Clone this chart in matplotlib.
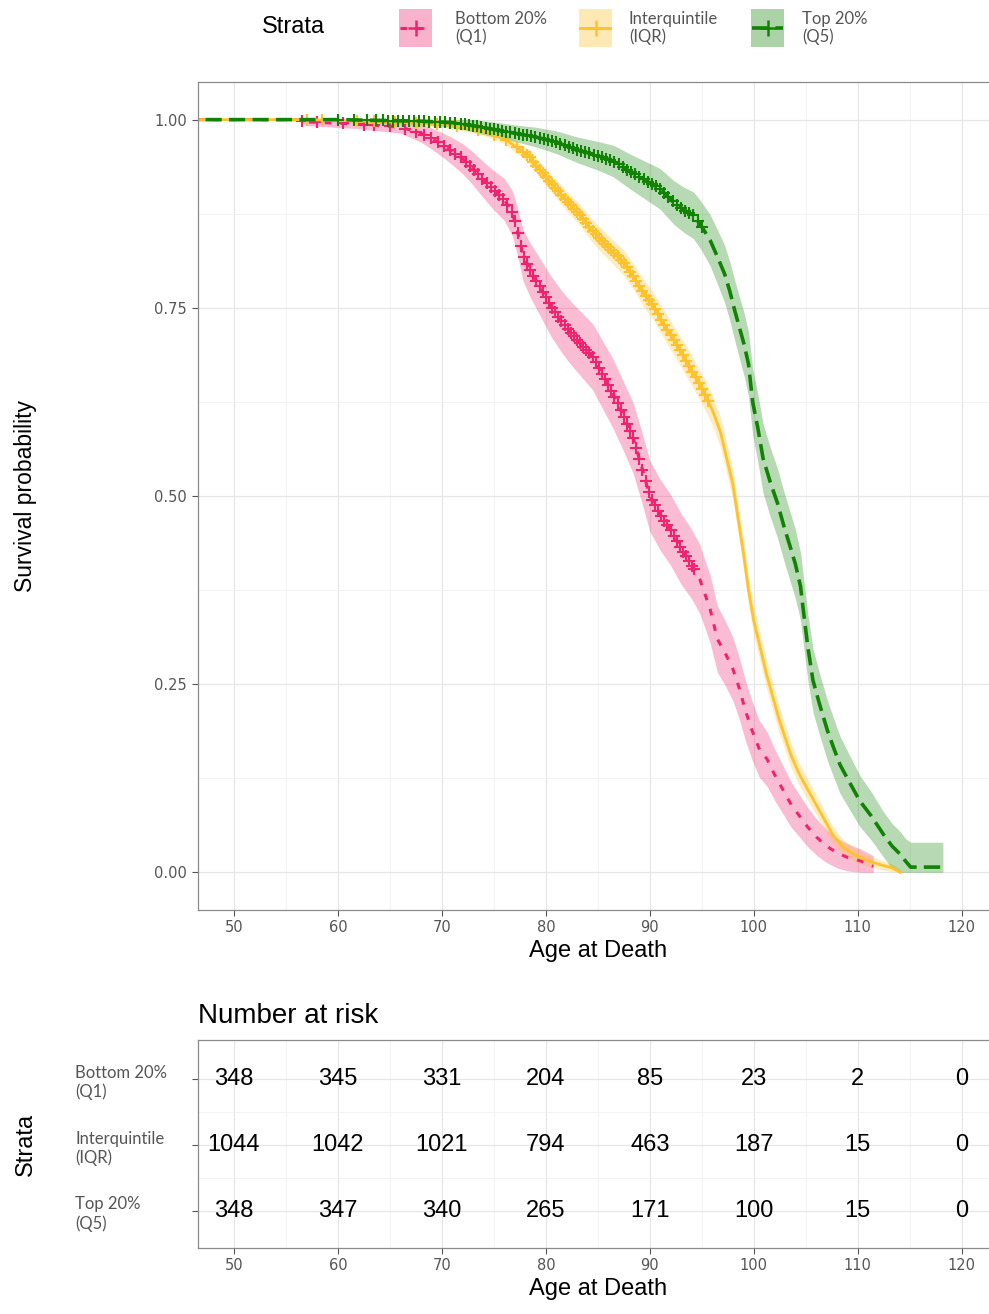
import numpy as np
import matplotlib.pyplot as plt
from matplotlib import font_manager
from matplotlib.patches import Rectangle

plt.rcParams['font.family'] = ['Liberation Sans', 'DejaVu Sans']

names = {f.name for f in font_manager.fontManager.ttflist}
narrow = 'Liberation Sans Narrow' if 'Liberation Sans Narrow' in names else 'Liberation Sans'
small_font = 'Lato' if 'Lato' in names else 'DejaVu Sans'

# Kaplan-Meier curves (age, survival, CI half-width)
q1_t = [45, 56, 57, 62, 66, 68, 69, 70, 71, 72, 73, 74, 75, 76, 76.8, 77.3, 77.8, 78.5, 79.5, 80.5,
        81.5, 82.5, 83.5, 84.5, 85.5, 86.5, 87.5, 88.4, 89.2, 90, 91, 92, 93, 94, 94.8, 95.3, 95.8,
        96.5, 97.3, 98, 98.6, 99.2, 99.8, 100.5, 101.3, 102, 102.8, 103.6, 104.4, 105.2, 106.1,
        107, 108, 109, 110.3, 111.5]
q1_s = [1.0, 1.0, 0.997, 0.994, 0.99, 0.982, 0.975, 0.967, 0.958, 0.948, 0.935, 0.92, 0.906, 0.894,
        0.875, 0.85, 0.82, 0.80, 0.776, 0.752, 0.732, 0.715, 0.70, 0.685, 0.66, 0.635, 0.605, 0.577,
        0.54, 0.50, 0.475, 0.455, 0.43, 0.41, 0.39, 0.37, 0.35, 0.31, 0.29, 0.27, 0.245, 0.215, 0.19,
        0.165, 0.15, 0.13, 0.11, 0.09, 0.075, 0.06, 0.046, 0.035, 0.026, 0.02, 0.015, 0.008]
q1_ci = [0, 0, 0.005, 0.006, 0.008, 0.012, 0.014, 0.016, 0.018, 0.02, 0.022, 0.024, 0.026, 0.028,
         0.03, 0.032, 0.034, 0.036, 0.038, 0.04, 0.041, 0.042, 0.043, 0.044, 0.045, 0.046, 0.046,
         0.047, 0.047, 0.047, 0.047, 0.047, 0.047, 0.046, 0.046, 0.045, 0.045, 0.044, 0.043, 0.042,
         0.041, 0.04, 0.039, 0.038, 0.036, 0.034, 0.032, 0.03, 0.028, 0.026, 0.024, 0.022, 0.02,
         0.018, 0.016, 0.014]
q1_cens = [56.5, 58, 60.5, 62.5, 63.5, 65, 66.5, 67.5, 68.3, 69, 69.6, 70.2, 70.8, 71.3, 71.8, 72.3,
           72.7, 73.1, 73.5, 73.9, 74.3, 74.7, 75.1, 75.5, 75.9, 76.3, 76.7, 77, 77.3, 77.6, 77.9,
           78.2, 78.5, 78.8, 79.1, 79.4, 79.7, 80, 80.3, 80.6, 80.9, 81.2, 81.5, 81.8, 82.1, 82.4,
           82.7, 83, 83.3, 83.6, 83.9, 84.2, 84.5, 84.8, 85.1, 85.4, 85.7, 86, 86.3, 86.6, 86.9,
           87.2, 87.5, 87.8, 88.1, 88.4, 88.7, 89, 89.3, 89.6, 89.9, 90.2, 90.5, 90.8, 91.1, 91.4,
           91.7, 92, 92.3, 92.6, 92.9, 93.2, 93.5, 93.8, 94.1, 94.3]

iqr_t = [45, 57, 60, 65, 70, 72, 74, 76, 77.5, 78.5, 79.3, 80.1, 81, 82, 83.3, 84.3, 85.3, 86.4,
         87.5, 88.5, 89.4, 90.3, 91.5, 92.6, 93.5, 94.3, 95.1, 96, 96.8, 97.4, 98, 98.5, 99, 99.5,
         100, 100.6, 101.2, 101.8, 102.4, 103, 103.6, 104.4, 105.2, 106, 106.8, 107.6, 108.5,
         109.5, 110.5, 111.5, 112.5, 113.3, 114.1]
iqr_s = [1.0, 1.0, 0.999, 0.997, 0.994, 0.99, 0.985, 0.975, 0.96, 0.95, 0.935, 0.922, 0.908, 0.892,
         0.873, 0.855, 0.84, 0.825, 0.81, 0.79, 0.77, 0.753, 0.725, 0.70, 0.68, 0.66, 0.64, 0.615,
         0.585, 0.55, 0.515, 0.47, 0.425, 0.375, 0.335, 0.30, 0.265, 0.235, 0.205, 0.18, 0.155, 0.13,
         0.11, 0.09, 0.07, 0.05, 0.035, 0.025, 0.018, 0.013, 0.009, 0.006, 0.0]
iqr_ci = [0, 0, 0.002, 0.003, 0.004, 0.005, 0.006, 0.007, 0.008, 0.009, 0.01, 0.011, 0.012, 0.013,
          0.014, 0.015, 0.016, 0.016, 0.017, 0.017, 0.018, 0.018, 0.019, 0.019, 0.02, 0.02, 0.02,
          0.02, 0.02, 0.02, 0.02, 0.02, 0.02, 0.02, 0.02, 0.019, 0.019, 0.018, 0.018, 0.017, 0.016,
          0.015, 0.014, 0.013, 0.012, 0.011, 0.01, 0.009, 0.008, 0.007, 0.006, 0.005, 0.004]
iqr_cens = [57, 58.5, 60, 61.8, 63.5, 65.5, 67.5, 69.5, 71.5, 73.5, 75, 76.2, 77.2, 77.8, 78.2, 78.5,
            78.8, 79.1, 79.4, 79.7, 80, 80.3, 80.6, 80.9, 81.2, 81.5, 81.8, 82.1, 82.4, 82.7, 83,
            83.3, 83.6, 83.9, 84.2, 84.5, 84.8, 85.1, 85.4, 85.7, 86, 86.3, 86.6, 86.9, 87.2, 87.5,
            87.8, 88.1, 88.4, 88.7, 89, 89.3, 89.6, 89.9, 90.2, 90.5, 90.8, 91.1, 91.4, 91.7, 92,
            92.3, 92.6, 92.9, 93.2, 93.5, 93.8, 94.1, 94.4, 94.7, 95, 95.3, 95.6]

q5_t = [45, 60, 64, 68, 71, 73, 75, 77, 79, 81, 83, 85, 86.5, 88, 89.5, 91, 92.3, 93.3, 94.2, 94.9,
        95.8, 96.5, 97.2, 97.7, 98.2, 98.7, 99.1, 99.5, 99.9, 100.4, 100.9, 101.6, 102.3, 102.9,
        103.5, 104, 104.5, 104.8, 105.2, 105.7, 106.3, 107.1, 107.7, 108.3, 109.2, 110.2, 111.3,
        112.5, 113.3, 114.1, 114.6, 115.1, 118.2]
q5_s = [1.0, 1.0, 0.999, 0.998, 0.996, 0.992, 0.987, 0.982, 0.977, 0.97, 0.96, 0.952, 0.945, 0.932,
        0.92, 0.908, 0.89, 0.88, 0.873, 0.86, 0.84, 0.818, 0.795, 0.772, 0.745, 0.72, 0.70, 0.675,
        0.625, 0.59, 0.55, 0.518, 0.49, 0.46, 0.433, 0.41, 0.38, 0.345, 0.30, 0.255, 0.225, 0.188,
        0.165, 0.143, 0.12, 0.095, 0.075, 0.05, 0.035, 0.024, 0.015, 0.007, 0.007]
q5_ci = [0, 0, 0.003, 0.004, 0.006, 0.008, 0.01, 0.011, 0.013, 0.015, 0.017, 0.019, 0.021, 0.023,
         0.025, 0.027, 0.029, 0.03, 0.031, 0.032, 0.034, 0.036, 0.038, 0.039, 0.04, 0.041, 0.042,
         0.043, 0.044, 0.045, 0.046, 0.046, 0.046, 0.046, 0.046, 0.046, 0.045, 0.045, 0.044, 0.042,
         0.041, 0.04, 0.039, 0.038, 0.036, 0.034, 0.032, 0.03, 0.03, 0.03, 0.03, 0.033, 0.033]
q5_cens = [60, 61.5, 62.8, 63.7, 64.3, 64.8, 65.3, 65.8, 66.3, 66.8, 67.3, 67.8, 68.3, 68.8, 69.3,
           69.8, 70.3, 70.8, 71.3, 71.8, 72.2, 72.6, 73, 73.4, 73.8, 74.2, 74.6, 75, 75.4, 75.8,
           76.2, 76.6, 77, 77.4, 77.8, 78.2, 78.6, 79, 79.4, 79.8, 80.2, 80.6, 81, 81.4, 81.8, 82.2,
           82.6, 83, 83.4, 83.8, 84.2, 84.6, 85, 85.4, 85.8, 86.2, 86.6, 87, 87.4, 87.8, 88.2, 88.6,
           89, 89.4, 89.8, 90.2, 90.6, 91, 91.4, 91.8, 92.2, 92.6, 93, 93.4, 93.8, 94.2, 94.6, 95]

strata = ['Bottom 20%\n(Q1)', 'Interquintile\n(IQR)', 'Top 20%\n(Q5)']
colors = ['#F0246E', '#FDC22C', '#128205']
risk_ages = [50, 60, 70, 80, 90, 100, 110, 120]
risk_q1 = [348, 345, 331, 204, 85, 23, 2, 0]
risk_iqr = [1044, 1042, 1021, 794, 463, 187, 15, 0]
risk_q5 = [348, 347, 340, 265, 171, 100, 15, 0]

W, H = 989, 1314
fig = plt.figure(figsize=(W / 100, H / 100), dpi=100)

x0, x1 = 197.6, 998.0
ax = fig.add_axes([x0 / W, 1 - 910 / H, (x1 - x0) / W, (910 - 82) / H])

groups = [
    (q1_t, q1_s, q1_ci, q1_cens, colors[0], (0, (2.2, 3.0)), 2.2),
    (iqr_t, iqr_s, iqr_ci, iqr_cens, colors[1], '-', 2.0),
    (q5_t, q5_s, q5_ci, q5_cens, colors[2], (0, (4.5, 2.0)), 2.6),
]

for t, s, ci, cens, col, ls, lw in groups:
    t = np.array(t)
    s = np.array(s)
    ci = np.array(ci)
    lo = np.clip(s - ci, 0, 1)
    hi = np.clip(s + ci, 0, 1)
    ax.fill_between(t, lo, hi, color=col, alpha=0.3, lw=0)

for t, s, ci, cens, col, ls, lw in groups:
    ax.plot(t, s, color=col, ls=ls, lw=lw)
    ax.plot(cens, np.interp(cens, t, s), ls='none', marker='+', color=col, ms=8, mew=1.5)


def style_panel(a):
    a.set_facecolor('white')
    for sp in a.spines.values():
        sp.set_color('#8a8a8a')
        sp.set_linewidth(0.9)
    a.grid(which='major', color='#e6e6e6', lw=0.9)
    a.grid(which='minor', color='#f1f1f1', lw=0.6)
    a.set_axisbelow(True)
    a.tick_params(which='major', colors='#555555', labelcolor='#555555', labelsize=10.5, length=4)
    a.tick_params(which='minor', length=0)


style_panel(ax)
ax.set_xticks(risk_ages)
ax.set_xticks(np.arange(55, 125, 10), minor=True)
ax.set_yticks([0, 0.25, 0.5, 0.75, 1.0])
ax.set_yticks([0.125, 0.375, 0.625, 0.875], minor=True)
ax.set_yticklabels(['0.00', '0.25', '0.50', '0.75', '1.00'], family='DejaVu Sans')
ax.set_xticklabels([str(a) for a in risk_ages], family='DejaVu Sans')
ax.set_xlim(46.5, 123.5)
ax.set_ylim(-0.05, 1.05)
ax.set_xlabel('Age at Death', fontsize=17, labelpad=3)
ax.set_ylabel('Survival probability', fontsize=16.5, labelpad=0)
ax.yaxis.set_label_coords(-(x0 - 37) / (x1 - x0), 0.5)

# legend on top, keys drawn by hand: light box, line and a censor mark
fig.text(262 / W, 1 - 27 / H, 'Strata', fontsize=17, va='center', ha='left')
key_x = [399, 579, 751]
label_x = [455, 629, 802]
for (t, s, ci, cens, col, ls, lw), kx, lx, lab in zip(groups, key_x, label_x, strata):
    kax = fig.add_axes([kx / W, 1 - 47 / H, 33 / W, 38 / H])
    kax.set_xlim(0, 1)
    kax.set_ylim(0, 1)
    kax.axis('off')
    kax.add_patch(Rectangle((0, 0), 1, 1, color=col, alpha=0.35, lw=0))
    kax.plot([0.02, 0.98], [0.5, 0.5], color=col, ls=ls, lw=lw)
    kax.plot([0.5], [0.5], marker='+', color=col, ms=12, mew=1.8)
    fig.text(lx / W, 1 - 28 / H, lab, fontsize=12, family=small_font, color='#555555',
             va='center', ha='left', linespacing=1.15)

# number at risk table
ax2 = fig.add_axes([x0 / W, 1 - 1248 / H, (x1 - x0) / W, (1248 - 1040) / H])
style_panel(ax2)
ax2.set_xticks(risk_ages)
ax2.set_xticks(np.arange(55, 125, 10), minor=True)
ax2.set_xticklabels([str(a) for a in risk_ages], family='DejaVu Sans')
ax2.set_yticks([3, 2, 1])
ax2.set_yticks([1.5, 2.5], minor=True)
ax2.set_yticklabels(strata, fontsize=12, family=small_font, color='#555555', ha='left')
ax2.tick_params(axis='y', which='major', pad=84)
ax2.set_xlim(46.5, 123.5)
ax2.set_ylim(0.44, 3.6)
for row, counts in zip([3, 2, 1], [risk_q1, risk_iqr, risk_q5]):
    for a, n in zip(risk_ages, counts):
        ax2.text(a, row, str(n), ha='center', va='center', fontsize=17, family=narrow)
ax2.set_xlabel('Age at Death', fontsize=17, labelpad=3)
ax2.set_ylabel('Strata', fontsize=17, labelpad=0)
ax2.yaxis.set_label_coords(-(x0 - 37) / (x1 - x0), 0.5)
ax2.set_title('Number at risk', loc='left', fontsize=20, pad=12)

fig.savefig('out.png', dpi=100)
